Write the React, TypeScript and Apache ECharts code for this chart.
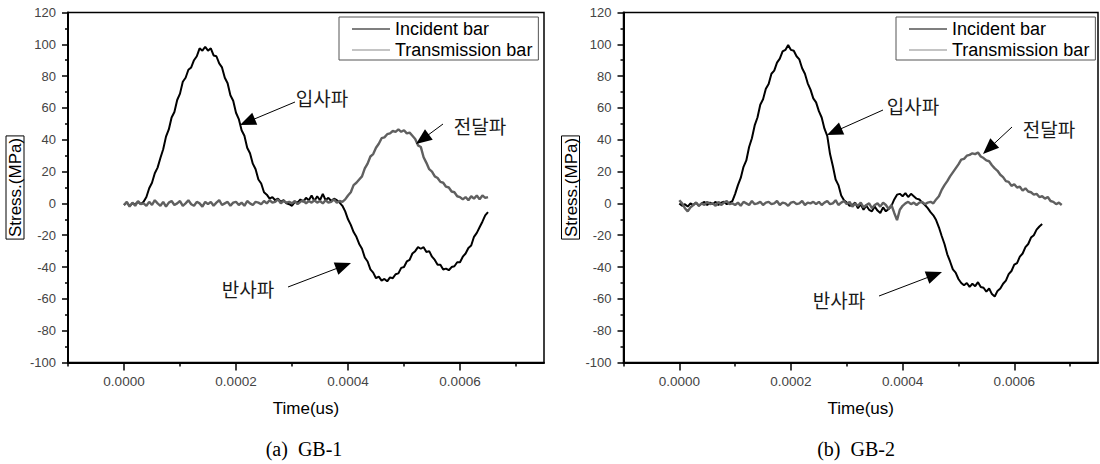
import React, { useEffect, useRef } from "react";
import * as echarts from "echarts";

// ---- data (stress in MPa, sampled every 5 µs from t = 0) ----
const SAMPLE_STEP = 0.000005;

const gb1Incident = [
  -1, 0.5, -1.5, 0, -0.5, 1, -0.5, 1, 4, 9.5,
  13, 19, 22.5, 28.5, 34, 42, 46.5, 54, 57.5, 65,
  69, 76.5, 79, 84, 85.5, 90, 92.5, 97.5, 96, 98.5,
  96, 97.5, 93, 92.5, 88, 85.5, 79, 75.5, 68, 64.5,
  57, 53, 46, 42.5, 35, 31.5, 25, 21.5, 15, 12.5,
  7, 5.5, 3, 4, 2, 3, 1, 2, 0, -0.5,
  -1.5, 1, 0.5, 2.5, 1, 3.5, 2, 5, 1.5, 4.5,
  2, 6, 2, 3.5, 1.5, 3, 2, 0.5, -1.5, -5,
  -10, -13.5, -18, -21, -25.5, -28.5, -34, -36.5, -41.5, -43.5,
  -47, -46, -48.5, -47.5, -49, -46.5, -47, -44.5, -44, -40.5,
  -40, -36.5, -35.5, -31.5, -30, -27.5, -28.5, -27.5, -30.5, -30,
  -33.5, -35.5, -38.5, -38.5, -41.5, -41, -42, -40, -39.5, -37,
  -37, -33.5, -31.5, -28, -26.5, -21, -18.5, -15, -11.5, -7.5,
  -5.5,
];

const gb1Transmission = [
  -1, 1, -2, 0.5, -1.5, 1.5, -0.5, 0, -1.5, 1,
  -1, 2, 0, -1.5, 1, -2, 0.5, 1.5, -1, 0,
  1.5, -1.5, 0, 2, -0.5, -1.5, 1, 0, -2, 1,
  -0.5, 1, -1.5, 0.5, 2, -1, 0, 1, -1.5, 0.5,
  1, -1, 0.5, -1.5, 1.5, 0, -1, 1, 0.5, -0.5,
  1.5, 0, 2, 0.5, 1, 2.5, 0, 1.5, 0.5, 1,
  0, 1.5, -0.5, 1, 2, 0, 1.5, 0.5, 2, 0.5,
  1.5, 0, 2, 0.5, 1, 2.5, 0.5, 1.5, 1, 2.5,
  5, 7, 11.5, 13, 15, 17, 22, 25, 29.5, 31,
  35, 37.5, 41, 41.5, 43.5, 44, 45.5, 45, 46.5, 45,
  46, 44, 44.5, 42.5, 40.5, 36.5, 35.5, 29, 25.5, 21.5,
  20, 17, 16, 13.5, 13, 10.5, 10, 7.5, 7, 4.5,
  4, 2.5, 4, 2, 4.5, 3, 5, 2.5, 5, 3.5,
  4,
];

const gb2Incident = [
  0, -1.5, -0.5, -2, 0, -1, 0.5, -1.5, 0, 1,
  -1, 0.5, -0.5, 1, -1, 0.5, 1, -0.5, 0.5, 1.5,
  6, 11.5, 16, 23, 27, 35.5, 41, 49, 54, 62,
  65.5, 72, 75, 81.5, 83.5, 88.5, 91, 95.5, 96.5, 99.5,
  96.5, 96, 92.5, 90.5, 85, 81.5, 75.5, 71.5, 66, 63.5,
  58, 54, 47, 42.5, 31, 23.5, 15, 11.5, 5, 2,
  0.5, -1.5, -1, 0.5, -3, -0.5, -4, -1.5, -4, -5,
  -2, -4.5, -6, -2.5, -5, -3.5, -1.5, 2.5, 5.5, 6,
  4.5, 6.5, 4, 6, 4.5, 3, 2.5, 0.5, -1, -3,
  -5.5, -7.5, -10.5, -15, -20.5, -25.5, -32, -36.5, -41.5, -43.5,
  -47.5, -50, -51.5, -50, -52.5, -50.5, -52, -49.5, -52.5, -53,
  -55.5, -53.5, -57, -58.5, -55, -53.5, -50.5, -48.5, -44.5, -42.5,
  -38.5, -37.5, -33.5, -31.5, -27.5, -25.5, -21.5, -20, -16.5, -14.5,
  -13,
];

const gb2Transmission = [
  2, 0, -3, -5, -2.5, -1, 0.5, -1.5, 0, -1,
  1, -0.5, 0, -1.5, 1, -1, 0.5, 1.5, -0.5, 0,
  -1, 0.5, -1.5, 1, 0, -1, 1.5, -0.5, 0, 1,
  -1, 0.5, 1, -0.5, 0, 1.5, -1, 0.5, 0, -1.5,
  0.5, 1, -0.5, 0, 1.5, -1, 0.5, 0, 1, -0.5,
  1, -1, 0.5, 1.5, -0.5, 0, 2, -1, 0.5, 1.5,
  -0.5, 1, -2, 0, -1.5, 0.5, -2.5, -1, 0, -3,
  -1, 0, -2, 0.5, -1, -3.5, -1, -6, -10.5, -4,
  -1.5, 0, 1, -0.5, 0.5, -1, 0.5, 1, -0.5, 0.5,
  1, 0, 2.5, 4.5, 8.5, 11.5, 14, 17, 19.5, 22,
  24.5, 27.5, 28, 30, 30.5, 31.5, 31, 32, 29.5, 28.5,
  27, 26.5, 24, 22, 20.5, 18, 16.5, 14, 13.5, 11,
  12, 10, 10.5, 8, 9.5, 7.5, 7, 5.5, 6, 4,
  4.5, 3, 4, 1.5, 1, -0.5, 0.5, -1,
];

const xMajorTicks = [0, 0.0002, 0.0004, 0.0006];
const xMinorTicks = [-0.0001, 0.0001, 0.0003, 0.0005, 0.0007];
const seriesNames = ["Incident bar", "Transmission bar"];
const panelCaptions = ["(a)  GB-1", "(b)  GB-2"];
const waveLabels = ["입사파", "전달파", "반사파"];

const SANS = "Arial, 'Liberation Sans', Helvetica, sans-serif";
const KR = "'Noto Sans CJK KR', 'Noto Sans CJK SC', sans-serif";
const SERIF = "'Times New Roman', 'Liberation Serif', serif";

const toPairs = (vals: number[]) => vals.map((v, i) => [i * SAMPLE_STEP, v]);

function arrow(sx: number, sy: number, tx: number, ty: number) {
  const dx = tx - sx;
  const dy = ty - sy;
  const len = Math.sqrt(dx * dx + dy * dy);
  const ux = dx / len;
  const uy = dy / len;
  const hl = 16;
  const hw = 6.5;
  const bx = tx - ux * hl;
  const by = ty - uy * hl;
  return [
    {
      type: "line",
      shape: { x1: sx, y1: sy, x2: bx + ux * 2, y2: by + uy * 2 },
      style: { stroke: "#000", lineWidth: 1 },
      z: 100,
    },
    {
      type: "polygon",
      shape: {
        points: [
          [tx, ty],
          [bx - uy * hw, by + ux * hw],
          [bx + uy * hw, by - ux * hw],
        ],
      },
      style: { fill: "#000" },
      z: 100,
    },
  ];
}

function label(text: string, cx: number, cy: number) {
  return {
    type: "text",
    x: cx,
    y: cy,
    z: 100,
    style: {
      text,
      font: `19px ${KR}`,
      fill: "#1a1a1a",
      align: "center",
      verticalAlign: "middle",
    },
  };
}

export default function App() {
  const ref = useRef<HTMLDivElement>(null);

  useEffect(() => {
    if (!ref.current) return;
    const chart = echarts.init(ref.current, undefined, { renderer: "svg" });

    const grids = [
      { left: 68, top: 12.5, width: 476, height: 350 },
      { left: 623.5, top: 12.5, width: 474.5, height: 350 },
    ];

    const xAxes: any[] = [];
    const yAxes: any[] = [];
    grids.forEach((_, g) => {
      xAxes.push({
        gridIndex: g,
        type: "value",
        min: -0.0001,
        max: 0.00075,
        position: "bottom",
        name: "Time(us)",
        nameLocation: "middle",
        nameGap: 37,
        nameTextStyle: { fontSize: 17, color: "#000", fontFamily: SANS },
        axisLine: { show: true, onZero: false, lineStyle: { color: "#000", width: 2 } },
        axisTick: { show: true, customValues: xMajorTicks, length: 8, lineStyle: { color: "#000", width: 1.5 } },
        axisLabel: {
          show: true,
          customValues: xMajorTicks,
          formatter: (v: number) => v.toFixed(4),
          margin: 12,
          color: "#444",
          fontSize: 13.5,
          fontFamily: SANS,
        },
        splitLine: { show: false },
      });
      xAxes.push({
        gridIndex: g,
        type: "value",
        min: -0.0001,
        max: 0.00075,
        position: "bottom",
        axisLine: { show: false, onZero: false },
        axisTick: { show: true, customValues: xMinorTicks, length: 4, lineStyle: { color: "#000", width: 1.5 } },
        axisLabel: { show: false, customValues: xMinorTicks },
        splitLine: { show: false },
      });
      yAxes.push({
        gridIndex: g,
        type: "value",
        min: -100,
        max: 120,
        interval: 20,
        name: "Stress.(MPa)",
        nameLocation: "middle",
        nameRotate: 90,
        nameGap: 44,
        nameTextStyle: {
          fontSize: 17,
          color: "#000",
          fontFamily: SANS,
          borderColor: "#000",
          borderWidth: 1,
          padding: [1, 2, 0, 2],
        },
        axisLine: { show: true, onZero: false, lineStyle: { color: "#000", width: 2 } },
        axisTick: { show: true, length: 6, lineStyle: { color: "#000", width: 1.5 } },
        minorTick: { show: true, splitNumber: 2, length: 3, lineStyle: { color: "#000", width: 1.5 } },
        axisLabel: { color: "#444", fontSize: 13, margin: 12, fontFamily: SANS },
        splitLine: { show: false },
      });
    });

    const mkSeries = (name: string, data: number[], xi: number, yi: number, color: string, width: number) => ({
      name,
      type: "line",
      xAxisIndex: xi,
      yAxisIndex: yi,
      data: toPairs(data),
      showSymbol: false,
      symbol: "none",
      lineStyle: { color, width },
      itemStyle: { color },
      emphasis: { disabled: true },
    });

    const mkLegend = (left: number) => ({
      left,
      top: 17,
      orient: "vertical",
      icon: "rect",
      itemWidth: 38,
      itemHeight: 1.2,
      itemGap: 3,
      padding: [3, 6, 1, 13],
      borderColor: "#555",
      borderWidth: 1,
      selectedMode: false,
      textStyle: { fontSize: 18, lineHeight: 18, color: "#000", fontFamily: SANS },
      data: [
        { name: seriesNames[0], itemStyle: { color: "#000" } },
        { name: seriesNames[1], itemStyle: { color: "#8a8a8a" } },
      ],
    });

    const graphics: any[] = [
      label(waveLabels[0], 322, 97),
      ...arrow(295, 102, 240, 125),
      label(waveLabels[1], 480, 125),
      ...arrow(443, 124, 416, 144),
      label(waveLabels[2], 248, 288),
      ...arrow(288, 287, 351, 263),
      label(waveLabels[0], 913, 105),
      ...arrow(883, 110, 827, 135),
      label(waveLabels[1], 1049, 128),
      ...arrow(1012, 127, 983, 154),
      label(waveLabels[2], 839, 299),
      ...arrow(879, 296, 942, 272),
      {
        type: "text",
        x: 304,
        y: 449,
        style: { text: panelCaptions[0], font: `20px ${SERIF}`, fill: "#000", align: "center", verticalAlign: "middle" },
      },
      {
        type: "text",
        x: 856,
        y: 449,
        style: { text: panelCaptions[1], font: `20px ${SERIF}`, fill: "#000", align: "center", verticalAlign: "middle" },
      },
    ];

    chart.setOption({
      animation: false,
      backgroundColor: "#fff",
      grid: grids.map((g) => ({ ...g, show: true, borderColor: "#000", borderWidth: 1.5, backgroundColor: "transparent" })),
      xAxis: xAxes,
      yAxis: yAxes,
      legend: [mkLegend(339), mkLegend(896)],
      series: [
        mkSeries(seriesNames[0], gb1Incident, 0, 0, "#000", 2),
        mkSeries(seriesNames[1], gb1Transmission, 0, 0, "#606060", 2.4),
        mkSeries(seriesNames[0], gb2Incident, 2, 1, "#000", 2),
        mkSeries(seriesNames[1], gb2Transmission, 2, 1, "#606060", 2.4),
      ],
      graphic: graphics,
    });

    return () => chart.dispose();
  }, []);

  return (
    <div
      ref={ref}
      style={{ position: "absolute", left: 0, top: 0, width: 1100, height: 464, background: "#fff" }}
    />
  );
}
